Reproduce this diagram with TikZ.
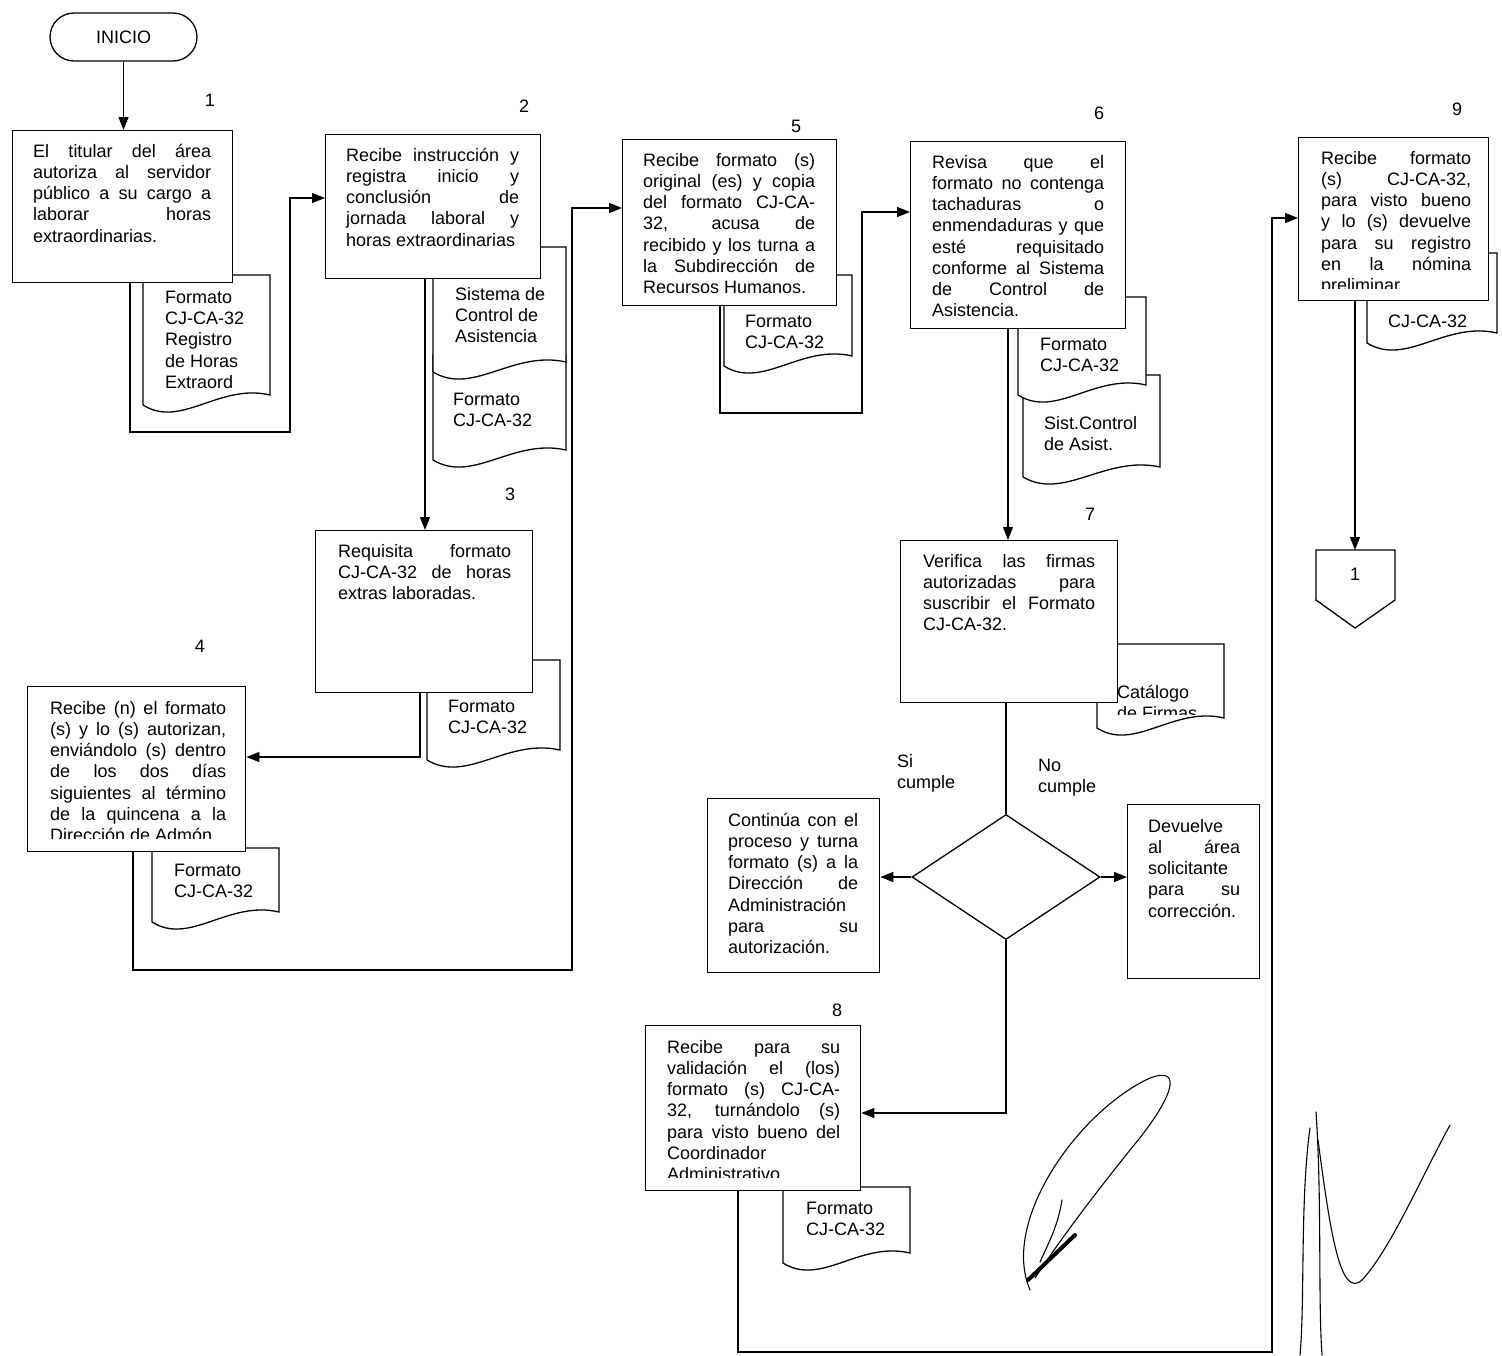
\documentclass[tikz,border=0pt]{standalone}
\usepackage{fontspec}
\setmainfont{Liberation Sans}
\usetikzlibrary{arrows.meta,shapes.geometric}
\newcommand{\jl}[1]{#1\linebreak}
\newcommand{\docpath}[4]{(#3,#2) -- (#1,#2) -- (#1,#4) .. controls ({#1+0.3*(#3-#1)},{#4+24}) and ({#1+0.6*(#3-#1)},{#4-22}) .. (#3,{#4-10}) -- cycle}
\tikzset{
  box/.style={draw, fill=white, line width=1.3pt, inner sep=0pt, anchor=north west},
  txt/.style={inner sep=0pt, anchor=north west, align=left, font=\fontsize{18}{21.2}\selectfont, execute at begin node={\rule{0pt}{16pt}}},
  jtxt/.style={inner sep=0pt, anchor=north west, align=justify, text width=#1, font=\fontsize{18}{21.2}\selectfont, execute at begin node={\hyphenpenalty=10000 \exhyphenpenalty=10000 \tolerance=10000 \parindent=0pt \rule{0pt}{16pt}}},
  doc/.style={draw, fill=white, line width=1.3pt},
  arr/.style={line width=1.3pt, -{Triangle[length=13pt,width=10pt]}},
  ln/.style={line width=1.3pt},
  num/.style={inner sep=0pt, font=\fontsize{18}{21}\selectfont},
  sig/.style={line width=1.1pt, line cap=round},
}
\begin{document}
\begin{tikzpicture}[x=1pt,y=-1pt]
\useasboundingbox (0,0) rectangle (1502,1355);

% ---------- documents (behind boxes) ----------
\draw[doc] \docpath{143}{275}{270}{405};
\node[txt] (d1) at (165,291) {Formato\\CJ-CA-32\\Registro\\de Horas\\Extraord};

\draw[doc] \docpath{433}{355}{566}{460};
\node[txt] (d2b) at (453,393) {Formato\\CJ-CA-32};
\draw[doc] \docpath{433}{247}{566}{372};
\node[txt] (d2a) at (455,287) {Sistema de\\Control de\\Asistencia};

\draw[doc] \docpath{427}{660}{560}{760};
\node[txt] (d3) at (448,700) {Formato\\CJ-CA-32};

\draw[doc] \docpath{152}{848}{279}{922};
\node[txt] (d4) at (174,864) {Formato\\CJ-CA-32};

\draw[doc] \docpath{724}{275}{852}{366};
\node[txt] (d5) at (745,315) {Formato\\CJ-CA-32};

\draw[doc] \docpath{1023}{375}{1160}{477};
\node[txt] (d6b) at (1044,416) {Sist.Control\\de Asist.};
\draw[doc] \docpath{1018}{297}{1146}{395};
\node[txt] (d6a) at (1040,338) {Formato\\CJ-CA-32};

\draw[doc] \docpath{1097}{644}{1224}{728};
\begin{scope}
\clip (1097,644) rectangle (1224,714);
\node[txt] (d7) at (1117,685) {Catálogo\\de Firmas};
\end{scope}

\draw[doc] \docpath{783}{1187}{910}{1263};
\node[txt] (d8) at (806,1202) {Formato\\CJ-CA-32};

\draw[doc] \docpath{1367}{253}{1497}{343};
\node[txt] (d9) at (1388,311) {CJ-CA-32};

% ---------- terminal ----------
\node[draw, line width=1.3pt, rounded corners=24pt, minimum width=147pt, minimum height=48pt, inner sep=0pt, font=\fontsize{18}{21}\selectfont] (ini) at (123.5,37) {INICIO};

% ---------- process boxes ----------
\node[box, minimum width=220pt, minimum height=152pt] (b1) at (12,130) {};
\node[jtxt=178pt] (t1) at (33,141) {\jl{El titular del área}\jl{autoriza al servidor}\jl{público a su cargo a}\jl{laborar horas}extraordinarias.};

\node[box, minimum width=215pt, minimum height=144pt] (b2) at (325,134) {};
\node[jtxt=173pt] (t2) at (346,145) {\jl{Recibe instrucción y}\jl{registra inicio y}\jl{conclusión de}\jl{jornada laboral y}horas extraordinarias};

\node[box, minimum width=217pt, minimum height=162pt] (b3) at (315,530) {};
\node[jtxt=173pt] (t3) at (338,541) {\jl{Requisita formato}\jl{CJ-CA-32 de horas}extras laboradas.};

\node[box, minimum width=218pt, minimum height=165pt] (b4) at (27,686) {};
\begin{scope}
\clip (27,686) rectangle (245,838);
\node[jtxt=176pt] (t4) at (50,698) {\jl{Recibe (n) el formato}\jl{(s) y lo (s) autorizan,}\jl{enviándolo (s) dentro}\jl{de los dos días}\jl{siguientes al término}\jl{de la quincena a la}Dirección de Admón.};
\end{scope}

\node[box, minimum width=214pt, minimum height=166pt] (b5) at (622,139) {};
\node[jtxt=172pt] (t5) at (643,150) {\jl{Recibe formato (s)}\jl{original (es) y copia}\jl{del formato CJ-CA-}\jl{32, acusa de}\jl{recibido y los turna a}\jl{la Subdirección de}Recursos Humanos.};

\node[box, minimum width=215pt, minimum height=187pt] (b6) at (910,141) {};
\node[jtxt=172pt] (t6) at (932,152) {\jl{Revisa que el}\jl{formato no contenga}\jl{tachaduras o}\jl{enmendaduras y que}\jl{esté requisitado}\jl{conforme al Sistema}\jl{de Control de}Asistencia.};

\node[box, minimum width=217pt, minimum height=162pt] (b7) at (900,540) {};
\node[jtxt=172pt] (t7) at (923,551) {\jl{Verifica las firmas}\jl{autorizadas para}\jl{suscribir el Formato}CJ-CA-32.};

\node[draw, diamond, line width=1.3pt, minimum width=188pt, minimum height=125pt, inner sep=0pt] (dec) at (1006,877) {};

\node[box, minimum width=172pt, minimum height=174pt] (bC) at (707,798) {};
\node[jtxt=130pt] (tC) at (728,810) {\jl{Continúa con el}\jl{proceso y turna}\jl{formato (s) a la}\jl{Dirección de}Administración\newline\jl{para su}autorización.};

\node[box, minimum width=132pt, minimum height=174pt] (bD) at (1127,804) {};
\node[jtxt=92pt] (tD) at (1148,816) {Devuelve\newline\jl{al área}solicitante\newline\jl{para su}corrección.};

\node[box, minimum width=215pt, minimum height=165pt] (b8) at (645,1025) {};
\begin{scope}
\clip (645,1025) rectangle (860,1177);
\node[jtxt=173pt] (t8) at (667,1037) {\jl{Recibe para su}\jl{validación el (los)}\jl{formato (s) CJ-CA-}\jl{32, turnándolo (s)}\jl{para visto bueno del}Coordinador\newline Administrativo.};
\end{scope}

\node[box, minimum width=190pt, minimum height=163pt] (b9) at (1298,137) {};
\begin{scope}
\clip (1298,137) rectangle (1488,288);
\node[jtxt=150pt] (t9) at (1321,148) {\jl{Recibe formato}\jl{(s) CJ-CA-32,}\jl{para visto bueno}\jl{y lo (s) devuelve}\jl{para su registro}\jl{en la nómina}preliminar.};
\end{scope}

% off-page connector
\draw[ln] (1316,550) -- (1395,550) -- (1395,600) -- (1355,628) -- (1316,600) -- cycle;
\coordinate (offtop) at (1355,550);
\node[num] (off) at (1355,574) {1};

% ---------- step numbers ----------
\node[num] (n1) at (210,100) {1};
\node[num] (n2) at (524,106) {2};
\node[num] (n3) at (510,494) {3};
\node[num] (n4) at (200,646) {4};
\node[num] (n5) at (796,126) {5};
\node[num] (n6) at (1099,113) {6};
\node[num] (n7) at (1090,514) {7};
\node[num] (n8) at (837,1010) {8};
\node[num] (n9) at (1457,109) {9};

\node[txt] (si) at (897,754) {Si\\cumple};
\node[txt] (no) at (1038,759) {No\\cumple};

% ---------- connectors ----------
\draw[arr] (ini.south) -- (ini.south |- b1.north);

\coordinate (c1a) at (130,432);
\coordinate (c1b) at (290,432);
\coordinate (c1c) at (290,198);
\draw[arr] (b1.south -| c1a) -- (c1a) -- (c1b) -- (c1c) -- (b2.west |- c1c);

\coordinate (c2) at (425,400);
\draw[arr] (b2.south -| c2) -- (b3.north -| c2);

\coordinate (c3a) at (420,757);
\draw[arr] (b3.south -| c3a) -- (c3a) -- (b4.east |- c3a);

\coordinate (c4a) at (133,970);
\coordinate (c4b) at (572,970);
\coordinate (c4c) at (572,208);
\draw[arr] (b4.south -| c4a) -- (c4a) -- (c4b) -- (c4c) -- (b5.west |- c4c);

\coordinate (c5a) at (720,413);
\coordinate (c5b) at (862,413);
\coordinate (c5c) at (862,212);
\draw[arr] (b5.south -| c5a) -- (c5a) -- (c5b) -- (c5c) -- (b6.west |- c5c);

\coordinate (c6) at (1008,400);
\draw[arr] (b6.south -| c6) -- (b7.north -| c6);

\draw[ln] (b7.south -| dec.north) -- (dec.north);
\draw[arr] (dec.west) -- (bC.east |- dec.west);
\draw[arr] (dec.east) -- (bD.west |- dec.east);

\coordinate (c7) at (1006,1113);
\draw[arr] (dec.south) -- (c7) -- (b8.east |- c7);

\coordinate (c8a) at (738,1352);
\coordinate (c8b) at (1272,1352);
\coordinate (c8c) at (1272,218);
\draw[arr] (b8.south -| c8a) -- (c8a) -- (c8b) -- (c8c) -- (b9.west |- c8c);

\draw[arr] (b9.south -| offtop) -- (offtop);

% ---------- signatures ----------
\draw[sig] (1030,1290) .. controls (1000,1220) and (1080,1110) .. (1150,1078) .. controls (1185,1065) and (1172,1100) .. (1130,1150) .. controls (1090,1200) and (1060,1240) .. (1035,1278);
\draw[sig] (1040,1262) .. controls (1050,1240) and (1058,1225) .. (1062,1200);
\draw[sig, line width=4pt] (1028,1280) -- (1075,1235);
\draw[sig] (1310,1128) .. controls (1300,1200) and (1305,1300) .. (1300,1355);
\draw[sig] (1316,1112) .. controls (1322,1200) and (1318,1300) .. (1322,1355);
\draw[sig] (1318,1140) .. controls (1330,1230) and (1340,1300) .. (1362,1280) .. controls (1390,1250) and (1420,1180) .. (1450,1125);
\end{tikzpicture}
\end{document}
